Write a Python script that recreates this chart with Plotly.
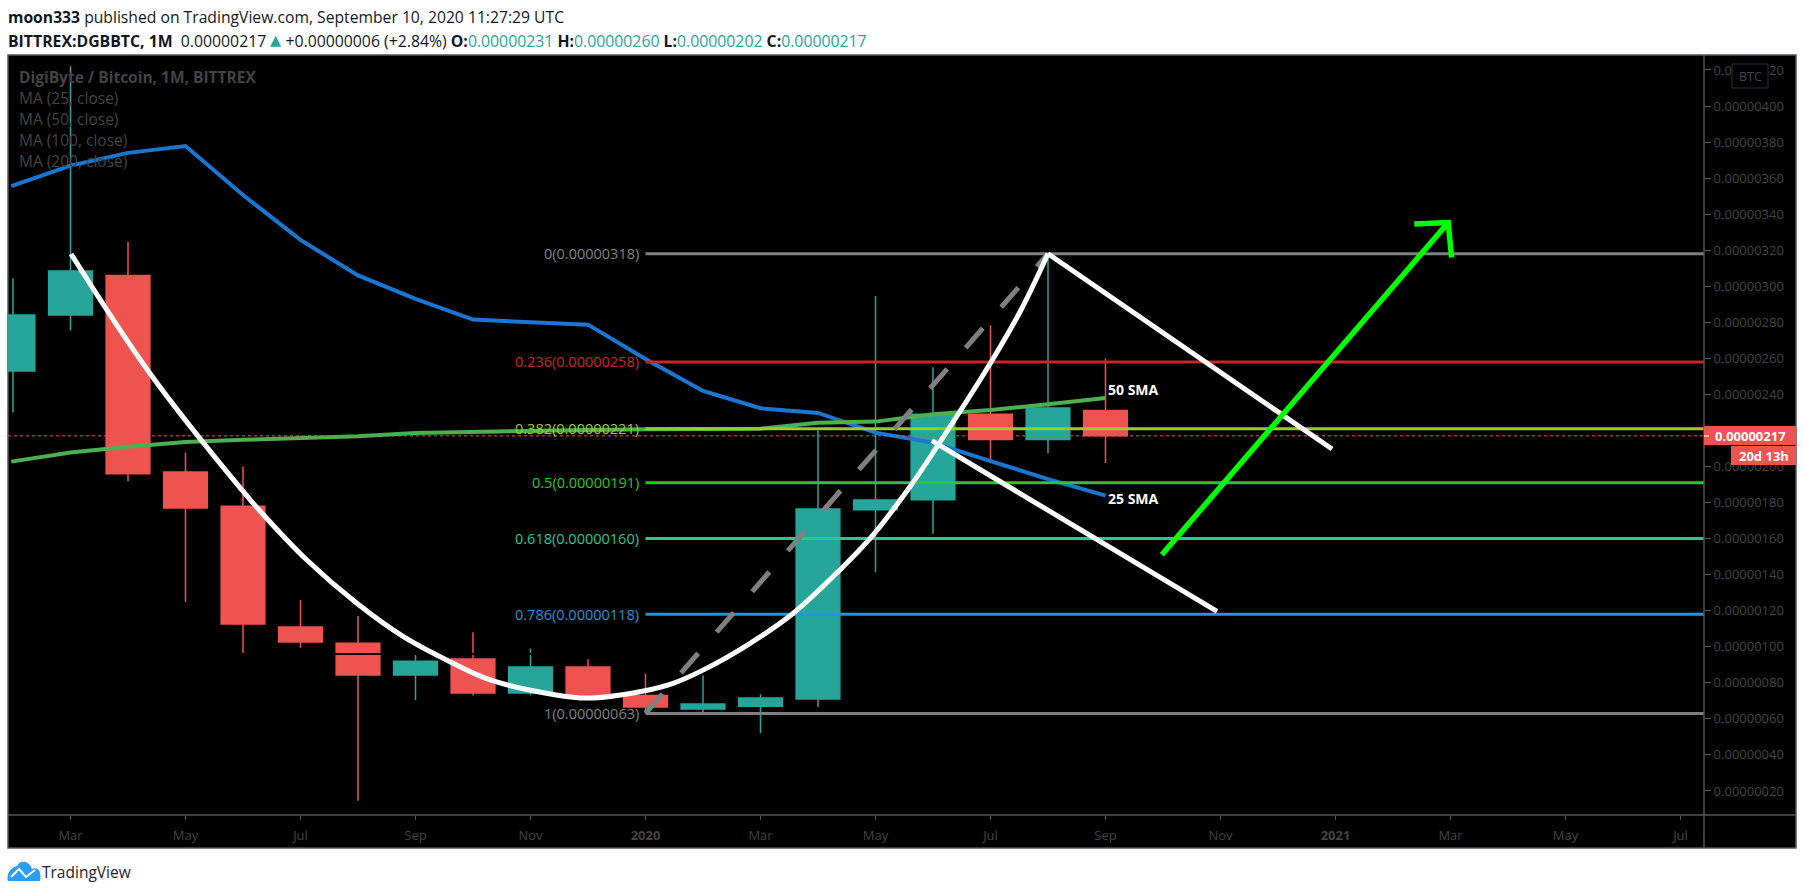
import plotly.graph_objects as go

W, H = 1805, 895
FONT = "Open Sans"

# Monthly candles, prices in units of 0.00000001 BTC. Bar 0 = Mar 2019
bar_index = list(range(-1, 19))
open_px = [253, 284, 306, 197, 178, 111, 102, 84.3, 93.2, 74.3, 88.8, 73, 65.5, 67, 71, 176, 181.6, 229, 215, 231]
high_px = [304.5, 422, 324.5, 207.8, 200, 126, 117, 95.4, 108, 99, 93, 85, 84, 73.6, 220, 294.6, 255, 278.3, 318, 260]
low_px = [230, 275.5, 191.8, 124.8, 96.5, 99.5, 14.6, 70.5, 73, 73, 72, 63, 63.4, 52, 66.6, 141.4, 162.7, 201.8, 207.4, 202]
close_px = [284, 308.5, 196, 177, 112.6, 102.6, 84.3, 92, 74.3, 88.8, 73, 66.6, 68.2, 71.6, 176.4, 181.4, 229, 215, 232.4, 217]

# Moving averages
ma_x = [-1.03, 0, 1, 2, 3, 4, 5, 6, 7, 8, 9, 10, 11, 12, 13, 14, 15, 16, 17, 18]
ma25 = [355.6, 366.9, 374, 377.8, 350.6, 325.7, 306, 293, 281.5, 280, 278.7, 259.6, 241.9, 232.3, 229.7, 218.8, 213.2, 203, 193, 183.8]
ma50 = [202.7, 207.8, 211, 213.6, 214.8, 216, 216.8, 218.6, 219.3, 220, 220.3, 220.6, 220.8, 221, 224.3, 224.9, 229, 231.3, 234.5, 238]

# Fibonacci retracement
fib_names = ["0", "0.236", "0.382", "0.5", "0.618", "0.786", "1"]
fib_prices = [318, 258, 221, 191, 160, 118, 63]
fib_labels = ["0.00000318", "0.00000258", "0.00000221", "0.00000191", "0.00000160", "0.00000118", "0.00000063"]
fib_colors = ["#808080", "#c62828", "#9acd1e", "#22cc22", "#26c98e", "#2196d8", "#808080"]

# Drawings
dash_x = [10, 17]
dash_y = [63, 318]
arc_x = [0.01, 1.38, 2.98, 3.41, 4.11, 4.98, 5.79, 6.6, 7.3, 8.4, 9, 9.9, 10.48, 11.06, 11.82, 12.57, 13.38, 13.91, 14.6, 15.07, 16, 16.53, 17]
arc_y = [317.9, 251.7, 187, 171.3, 148.1, 124.1, 105.6, 91.7, 81.6, 73.5, 71.5, 75, 79.7, 88, 101.9, 118.6, 142.6, 160.2, 188.8, 211, 257.4, 286.8, 318]
flag_top_x = [17, 21.94]
flag_top_y = [318, 209.7]
flag_low_x = [14.98, 19.94]
flag_low_y = [214.3, 119.6]
arrow_x = [18.98, 23.96]
arrow_y = [151, 335.3]
arrow_head_x = [23.37, 23.96, 24.02]
arrow_head_y = [334.5, 335.3, 315.9]
cut_x = [4.6, 8.2]
cut_y = [96, 96]

# Axis labels
x_ticks = [0, 2, 4, 6, 8, 10, 12, 14, 16, 18, 20, 22, 24, 26, 28]
x_labels = ["Mar", "May", "Jul", "Sep", "Nov", "<b>2020</b>", "Mar", "May", "Jul", "Sep", "Nov", "<b>2021</b>", "Mar", "May", "Jul"]
y_ticks = [20, 40, 60, 80, 100, 120, 140, 160, 180, 200, 220, 240, 260, 280, 300, 320, 340, 360, 380, 400, 420]
y_labels = ["0.%08d" % v for v in y_ticks]

last_price = 217
x_range = [(8 - 70.5) / 57.5, (1704 - 70.5) / 57.5]
y_range = [(827 - 815) / 1.8025, (827 - 55) / 1.8025]


def line(x, y, color, width, dash=None, shape="linear"):
    return go.Scatter(x=x, y=y, mode="lines", hoverinfo="skip", showlegend=False,
                      line=dict(color=color, width=width, dash=dash, shape=shape))


def px(x):
    return x / W


def py(y):
    return 1 - y / H


fig = go.Figure()

# MAs go under the candles
fig.add_trace(line(ma_x, ma25, "#1976d2", 4))
fig.add_trace(line(ma_x, ma50, "#4caf50", 4))

fig.add_trace(go.Candlestick(
    x=bar_index, open=open_px, high=high_px, low=low_px, close=close_px,
    increasing=dict(line=dict(color="#26a69a", width=1.5), fillcolor="#26a69a"),
    decreasing=dict(line=dict(color="#ef5350", width=1.5), fillcolor="#ef5350"),
    whiskerwidth=0, hoverinfo="skip", showlegend=False,
))
fig.add_trace(line(cut_x, cut_y, "#000000", 2))

fig.add_trace(line(x_range, [last_price, last_price], "#ef5350", 1, dash="dot"))

for price, color in zip(fib_prices, fib_colors):
    fig.add_trace(line([10, x_range[1]], [price, price], color, 3))

fig.add_trace(line(dash_x, dash_y, "#808080", 5, dash="26px,28px"))
fig.add_trace(line(arc_x, arc_y, "#ffffff", 5, shape="spline"))
fig.add_trace(line(flag_top_x, flag_top_y, "#ffffff", 5))
fig.add_trace(line(flag_low_x, flag_low_y, "#ffffff", 5))
fig.add_trace(line(arrow_x, arrow_y, "#00ff00", 5.5))
fig.add_trace(line(arrow_head_x, arrow_head_y, "#00ff00", 5.5))

for name, price, label, color in zip(fib_names, fib_prices, fib_labels, fib_colors):
    fig.add_annotation(x=9.92, y=price, text=f"{name}({label})", showarrow=False, xanchor="right",
                       yanchor="middle", font=dict(family=FONT, size=14.5, color=color))

fig.add_annotation(x=18, y=242.5, text="<b>50 SMA</b>", showarrow=False, xanchor="left",
                   font=dict(family=FONT, size=14, color="#ffffff"))
fig.add_annotation(x=18, y=182, text="<b>25 SMA</b>", showarrow=False, xanchor="left",
                   font=dict(family=FONT, size=14, color="#ffffff"))


def paper_text(x, y, text, size, color, anchor="left"):
    fig.add_annotation(xref="paper", yref="paper", x=px(x), y=py(y), text=text, showarrow=False,
                       xanchor=anchor, yanchor="middle", align="left", borderpad=0, borderwidth=0,
                       font=dict(family=FONT, size=size, color=color))


# Legend watermark in the corner of the pane
paper_text(19, 77, "<b>DigiByte / Bitcoin, 1M, BITTREX</b>", 15.5, "#434343")
paper_text(19, 98, "MA (25, close)", 15.5, "#434343")
paper_text(19, 119, "MA (50, close)", 15.5, "#434343")
paper_text(19, 140, "MA (100, close)", 15.5, "#434343")
paper_text(19, 161, "MA (200, close)", 15.5, "#434343")

# Header
teal = "#26a69a"
paper_text(8, 17, "<b>moon333</b> published on TradingView.com, September 10, 2020 11:27:29 UTC", 15.7, "#131722")
paper_text(8, 38, ("<b>BITTREX:DGBBTC, 1M</b>  0.00000217 "
                   f"<span style='color:{teal};font-size:22px'>▴</span> +0.00000006 (+2.84%) "
                   f"<b>O:</b><span style='color:{teal}'>0.00000231</span> "
                   f"<b>H:</b><span style='color:{teal}'>0.00000260</span> "
                   f"<b>L:</b><span style='color:{teal}'>0.00000202</span> "
                   f"<b>C:</b><span style='color:{teal}'>0.00000217</span>"), 15.8, "#131722")

# Footer
paper_text(42, 872, "TradingView", 15.5, "#1e222d")

# Price tags
paper_text(1750, 435.5, "<b>0.00000217</b>", 13, "#ffffff", anchor="center")
paper_text(1763.5, 455.5, "<b>20d 13h</b>", 13, "#ffffff", anchor="center")
paper_text(1750, 76, "BTC", 12.5, "#434651", anchor="center")

border = "#555555"
red = "#ef5350"
shapes = [
    # pane background and frame
    dict(type="rect", xref="paper", yref="paper", x0=px(8), x1=px(1796), y0=py(848), y1=py(55),
         fillcolor="#000000", line=dict(color=border, width=1.5), layer="below"),
    dict(type="line", xref="paper", yref="paper", x0=px(1704), x1=px(1704), y0=py(848), y1=py(55),
         line=dict(color=border, width=1.5), layer="above"),
    dict(type="line", xref="paper", yref="paper", x0=px(8), x1=px(1796), y0=py(815), y1=py(815),
         line=dict(color=border, width=1.5), layer="above"),
    # last price tag + countdown tag
    dict(type="rect", xref="paper", yref="paper", x0=px(1704), x1=px(1796), y0=py(445), y1=py(426),
         fillcolor=red, line=dict(width=0), layer="above"),
    dict(type="rect", xref="paper", yref="paper", x0=px(1731), x1=px(1796), y0=py(465), y1=py(446),
         fillcolor=red, line=dict(width=0), layer="above"),
    dict(type="line", xref="paper", yref="paper", x0=px(1704), x1=px(1709), y0=py(436), y1=py(436),
         line=dict(color="#ffffff", width=1), layer="above"),
    # currency badge
    dict(type="rect", xref="paper", yref="paper", x0=px(1732), x1=px(1768), y0=py(88), y1=py(64),
         fillcolor="#000000", line=dict(color="#2a2e39", width=1), layer="above"),
    # logo
    dict(type="path", xref="paper", yref="paper", layer="above", line=dict(width=0), fillcolor="#2a9df4",
         path=(f"M {px(8)} {py(881)} L {px(40)} {py(881)} C {px(42)} {py(872)} {px(38)} {py(866)} {px(32)} {py(869)} "
               f"C {px(29)} {py(860)} {px(20)} {py(860)} {px(17)} {py(866)} C {px(10)} {py(868)} {px(6)} {py(875)} {px(8)} {py(881)} Z")),
    dict(type="path", xref="paper", yref="paper", layer="above", line=dict(color="#ffffff", width=2),
         path=(f"M {px(11)} {py(877)} L {px(19)} {py(869)} L {px(26)} {py(877)} L {px(35)} {py(870)}")),
]

fig.update_layout(
    width=W, height=H, margin=dict(l=0, r=0, t=0, b=0),
    paper_bgcolor="#ffffff", plot_bgcolor="#000000",
    boxgap=0.24, boxgroupgap=0, showlegend=False, shapes=shapes,
    xaxis=dict(domain=[px(8), px(1704)], range=x_range, rangeslider=dict(visible=False),
               tickvals=x_ticks, ticktext=x_labels, showgrid=False, zeroline=False,
               ticks="outside", ticklen=4, tickwidth=1, tickcolor=border, ticklabelstandoff=4,
               tickfont=dict(family=FONT, size=13, color="#434343")),
    yaxis=dict(domain=[py(815), py(55)], range=y_range, side="right",
               tickvals=y_ticks, ticktext=y_labels, showgrid=False, zeroline=False,
               ticks="outside", ticklen=6, tickwidth=1, tickcolor=border,
               tickfont=dict(family=FONT, size=13, color="#434343")),
)

fig.write_html("out.html", config=dict(displayModeBar=False), post_script="document.body.style.margin='0';")
